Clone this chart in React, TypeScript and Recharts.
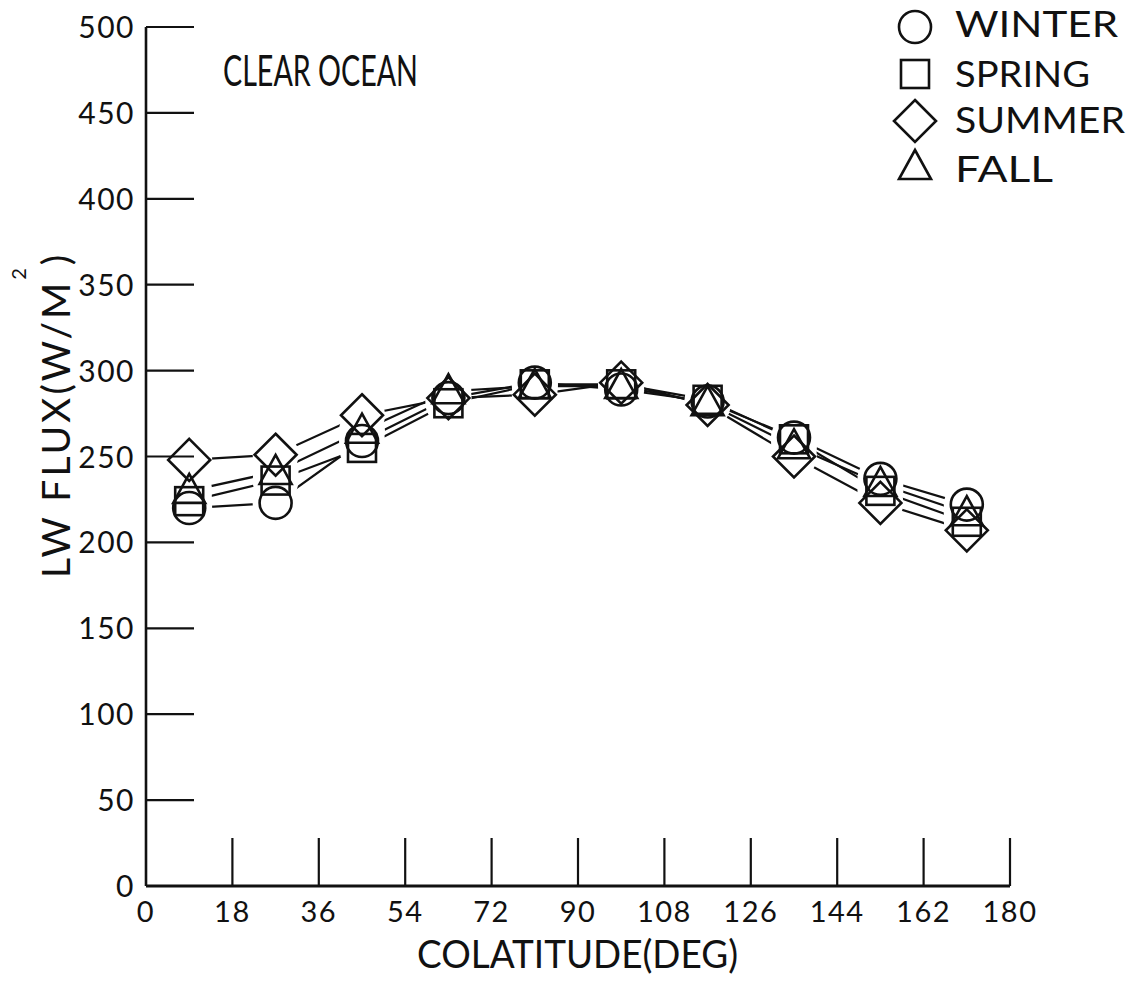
import React from "react";
import { Customized, Label, Legend, Line, LineChart, XAxis, YAxis } from "recharts";

// colatitude bin centres (deg)
const colatitude = [9, 27, 45, 63, 81, 99, 117, 135, 153, 171];

// LW flux (W/m^2) per season
const winter = [220, 223, 259, 284, 293, 289, 282, 261, 237, 222];
const spring = [224, 236, 255, 281, 292, 292, 283, 260, 230, 212];
const summer = [248, 251, 274, 284, 286, 293, 280, 250, 223, 207];
const fall = [230, 241, 265, 288, 291, 291, 281, 256, 234, 217];

const xTicks = [0, 18, 36, 54, 72, 90, 108, 126, 144, 162, 180];
const yTicks = [0, 50, 100, 150, 200, 250, 300, 350, 400, 450, 500];

const seasonKeys = ["winter", "spring", "summer", "fall"];
const seasonNames = ["WINTER", "SPRING", "SUMMER", "FALL"];
const seasonShapes = ["circle", "square", "diamond", "triangle"];

const data = colatitude.map((c, i) => ({
  colat: c,
  winter: winter[i],
  spring: spring[i],
  summer: summer[i],
  fall: fall[i],
}));

const FONT = "Lato, 'DejaVu Sans', sans-serif";
const INK = "#111";

function Marker({ shape, cx, cy }: { shape: string; cx: number; cy: number }) {
  const sw = 2.6;
  if (shape === "circle") {
    return <circle cx={cx} cy={cy} r={16} fill="none" stroke={INK} strokeWidth={sw} />;
  }
  if (shape === "square") {
    return <rect x={cx - 14} y={cy - 14} width={28} height={28} fill="none" stroke={INK} strokeWidth={sw} />;
  }
  if (shape === "diamond") {
    const h = 21;
    return (
      <polygon
        points={`${cx},${cy - h} ${cx + h},${cy} ${cx},${cy + h} ${cx - h},${cy}`}
        fill="none"
        stroke={INK}
        strokeWidth={sw}
      />
    );
  }
  return (
    <polygon
      points={`${cx},${cy - 17} ${cx + 16},${cy + 12} ${cx - 16},${cy + 12}`}
      fill="none"
      stroke={INK}
      strokeWidth={sw}
    />
  );
}

function YTick(props: any) {
  const { x, y, payload } = props;
  return (
    <g>
      <line x1={x + 12} y1={y} x2={x + 60} y2={y} stroke={INK} strokeWidth={2.2} />
      <text x={x + 1} y={y + 11} textAnchor="end" fontSize={30} fontFamily={FONT} letterSpacing={1.5} fill={INK}>
        {payload.value}
      </text>
    </g>
  );
}

function XTick(props: any) {
  const { x, y, payload } = props;
  const axisY = y - 16;
  return (
    <g>
      {payload.value !== 0 && (
        <line x1={x} y1={axisY} x2={x} y2={axisY - 48} stroke={INK} strokeWidth={2.2} />
      )}
      <text x={x} y={y + 20} textAnchor="middle" fontSize={29} fontFamily={FONT} letterSpacing={1.5} fill={INK}>
        {payload.value}
      </text>
    </g>
  );
}

function SeasonLegend() {
  const rows = [27, 74, 121, 167];
  const baselines = [37, 87, 133, 182];
  const widths = [163, 135, 170, 98];
  return (
    <svg width={244} height={200}>
      {seasonNames.map((name, i) => (
        <g key={name}>
          <Marker shape={seasonShapes[i]} cx={25} cy={rows[i]} />
          <text
            x={65}
            y={baselines[i]}
            fontSize={37}
            fontFamily={FONT}
            textLength={widths[i]}
            lengthAdjust="spacingAndGlyphs"
            fill={INK}
          >
            {name}
          </text>
        </g>
      ))}
    </svg>
  );
}

function PanelTitle() {
  return (
    <text x={223} y={86} fontSize={42} fontFamily={FONT} textLength={195} lengthAdjust="spacingAndGlyphs" fill={INK}>
      CLEAR OCEAN
    </text>
  );
}

export default function App() {
  return (
    <div style={{ position: "absolute", left: 0, top: 0, background: "#fff" }}>
      <LineChart width={1134} height={981} data={data} margin={{ top: 27, right: 124, bottom: 0, left: 86 }}>
        <XAxis
          dataKey="colat"
          type="number"
          domain={[0, 180]}
          ticks={xTicks}
          interval={0}
          height={95}
          tickSize={0}
          tickMargin={16}
          tick={<XTick />}
          axisLine={{ stroke: INK, strokeWidth: 2.8 }}
        >
          <Label
            content={() => (
              <text x={417} y={968} fontSize={38} fontFamily={FONT} textLength={321} lengthAdjust="spacingAndGlyphs" fill={INK}>
                COLATITUDE(DEG)
              </text>
            )}
          />
        </XAxis>
        <YAxis
          type="number"
          domain={[0, 500]}
          ticks={yTicks}
          interval={0}
          width={60}
          tickSize={0}
          tickMargin={12}
          tick={<YTick />}
          axisLine={{ stroke: INK, strokeWidth: 2.6 }}
        >
          <Label
            content={() => (
              <text transform="translate(70, 578) rotate(-90)" fontSize={39} fontFamily={FONT} letterSpacing={3} fill={INK}>
                LW FLUX(W/M
                <tspan dy={-44} fontSize={20}>2</tspan>
                <tspan dy={44}>)</tspan>
              </text>
            )}
          />
        </YAxis>
        <Customized component={PanelTitle} />
        <Legend
          layout="vertical"
          align="center"
          verticalAlign="middle"
          content={() => <SeasonLegend />}
          wrapperStyle={{ position: "absolute", left: 890, top: 0, width: 244, height: 200 }}
        />
        {seasonKeys.map((key) => (
          <Line
            key={`line-${key}`}
            dataKey={key}
            stroke={INK}
            strokeWidth={2.2}
            dot={false}
            activeDot={false}
            legendType="none"
            isAnimationActive={false}
          />
        ))}
        {seasonKeys.map((key) => (
          <Line
            key={`mask-${key}`}
            dataKey={key}
            stroke="none"
            legendType="none"
            activeDot={false}
            dot={(p: any) => <circle key={`m-${key}-${p.index}`} cx={p.cx} cy={p.cy} r={23} fill="#fff" />}
            isAnimationActive={false}
          />
        ))}
        {seasonKeys.map((key, i) => (
          <Line
            key={`mark-${key}`}
            dataKey={key}
            name={seasonNames[i]}
            stroke="none"
            activeDot={false}
            dot={(p: any) => <Marker key={`d-${key}-${p.index}`} shape={seasonShapes[i]} cx={p.cx} cy={p.cy} />}
            isAnimationActive={false}
          />
        ))}
      </LineChart>
    </div>
  );
}
